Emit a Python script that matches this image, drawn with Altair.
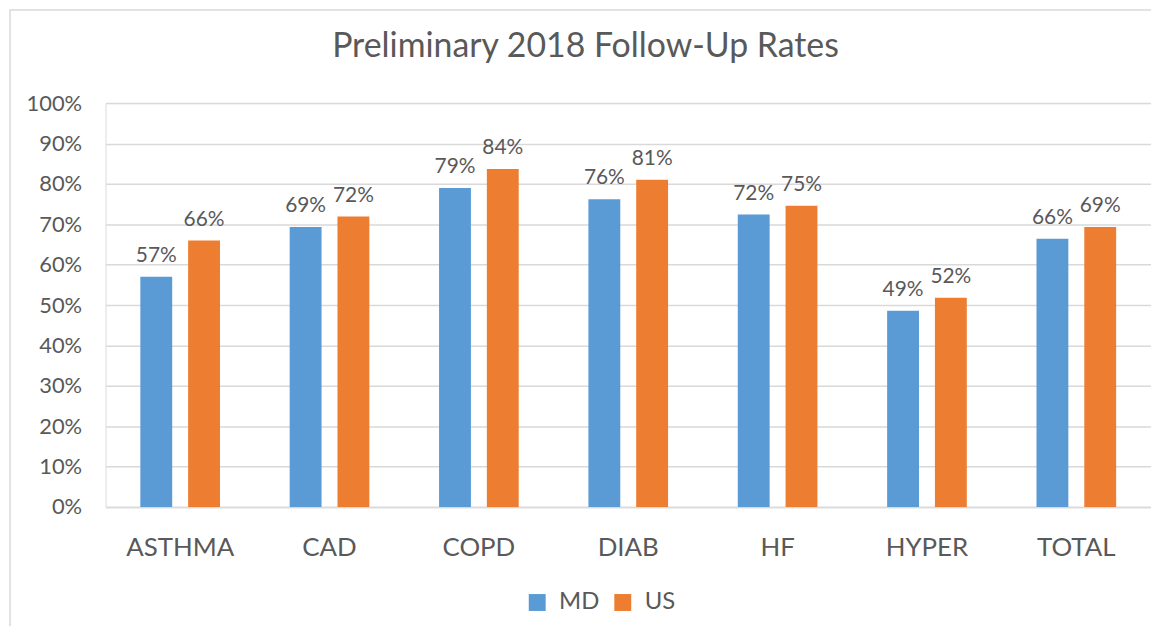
import altair as alt
import pandas as pd

categories = ["ASTHMA", "CAD", "COPD", "DIAB", "HF", "HYPER", "TOTAL"]
md_values = [0.570, 0.693, 0.790, 0.762, 0.724, 0.486, 0.664]
us_values = [0.660, 0.719, 0.837, 0.810, 0.746, 0.518, 0.693]
series = ["MD", "US"]
colors = ["#5B9BD5", "#ED7D31"]
title_text = "Preliminary 2018 Follow-Up Rates"

rows = []
for c, m, u in zip(categories, md_values, us_values):
    rows.append({"category": c, "series": "MD", "value": m})
    rows.append({"category": c, "series": "US", "value": u})
df = pd.DataFrame(rows)

FONT = "Lato"
TXT = "#595959"
GRID = "#D9D9D9"

x_enc = alt.X("category:N", sort=categories, title=None,
              scale=alt.Scale(paddingInner=0.4667, paddingOuter=0.2333),
              axis=alt.Axis(labelAngle=0, ticks=False, domain=True, domainColor=GRID,
                            domainWidth=1.5, labelFont=FONT, labelFontSize=26,
                            labelColor=TXT, labelPadding=28, grid=False))
xoff = alt.XOffset("series:N", sort=series,
                   scale=alt.Scale(paddingInner=0.3333, paddingOuter=0))
y_enc = alt.Y("value:Q", title=None,
              scale=alt.Scale(domain=[0, 1], nice=False),
              axis=alt.Axis(values=[i / 10 for i in range(11)], format=".0%",
                            ticks=False, domain=False, gridColor=GRID, gridWidth=1.5,
                            labelFont=FONT, labelFontSize=22, labelColor=TXT,
                            labelPadding=24))

base = alt.Chart(df)

bars = base.mark_bar().encode(
    x=x_enc,
    xOffset=xoff,
    y=y_enc,
    color=alt.Color("series:N", sort=series, title=None,
                    scale=alt.Scale(domain=series, range=colors),
                    legend=alt.Legend(orient="none", legendX=422, legendY=490,
                                      direction="horizontal", symbolType="square",
                                      symbolSize=289, symbolStrokeWidth=0,
                                      labelFont=FONT, labelFontSize=24,
                                      labelColor=TXT, labelOffset=10,
                                      columnPadding=11, padding=0)),
)

labels = base.mark_text(font=FONT, fontSize=21, color=TXT, baseline="alphabetic",
                        dy=-15).encode(
    x=alt.X("category:N", sort=categories),
    xOffset=alt.XOffset("series:N", sort=series),
    y=alt.Y("value:Q"),
    text=alt.Text("value:Q", format=".0%"),
)

frame = alt.Chart(pd.DataFrame({"f": [0]})).mark_rect(
    fill=None, stroke="#D9D9D9", strokeWidth=1.5
).encode(
    x=alt.value(-96), y=alt.value(-93.5), x2=alt.value(1060), y2=alt.value(540)
)

chart = alt.layer(frame, bars, labels).properties(
    width=1051,
    height=406,
    title=alt.TitleParams(title_text, font=FONT, fontSize=34, fontWeight="normal",
                          color=TXT, anchor="middle", frame="group",
                          baseline="alphabetic", offset=0, dy=82, dx=-43),
    autosize=alt.AutoSizeParams(type="none"),
    padding={"left": 98, "top": 94, "right": 0, "bottom": 118},
).configure_view(stroke=None).configure(background="white")

chart.save("out.html", embed_options={"renderer": "svg", "actions": False})
